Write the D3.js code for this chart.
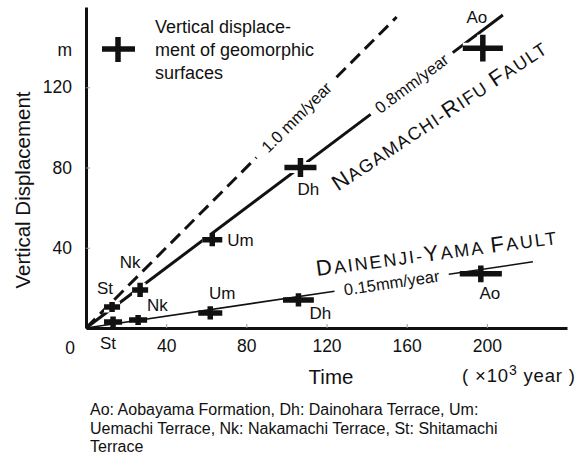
<!DOCTYPE html>
<html>
<head>
<meta charset="utf-8">
<script src="https://cdn.jsdelivr.net/npm/d3@7"></script>
<style>
    body { margin: 0; background: #fff; }
    svg { display: block; font-family: "Liberation Sans", Arial, sans-serif; }
</style>
</head>
<body>
<svg id="chart" width="581" height="463"></svg>
<script>
// terraces, oldest last
const terraces = ["St", "Nk", "Um", "Dh", "Ao"];

// Nagamachi-Rifu fault: age (x10^3 yr) and vertical displacement (m), with half ranges
const nagamachiAge = [13, 27, 63, 107, 198];
const nagamachiAgeErr = [4, 4, 5, 8, 10];
const nagamachiDisp = [10.5, 19, 44, 80, 139.5];
const nagamachiDispErr = [2.5, 3.5, 3.3, 4.7, 6.7];

// Dainenji-yama fault
const dainenjiAge = [13.5, 26, 62, 106, 197];
const dainenjiAgeErr = [4.5, 4.5, 6, 7.7, 10.5];
const dainenjiDisp = [3, 4, 7.5, 14, 27];
const dainenjiDispErr = [2.7, 2.5, 3.3, 3.3, 4.2];

// slip-rate lines, all from the origin
const rateLabels = ["1.0 mm/year", "0.8mm/year", "0.15mm/year"];
const rateEnds = [[155, 155], [208, 156], [223, 33]];
const rateGaps = [[85, 125], [142, 183], [124, 181]]; // age span left open for the label

const xTicks = [40, 80, 120, 160, 200];
const yTicks = [40, 80, 120];

const faultNames = ["NAGAMACHI-RIFU FAULT", "DAINENJI-YAMA FAULT"];
const legendLines = ["Vertical displace-", "ment of geomorphic", "surfaces"];
const captionLines = [
    "Ao: Aobayama Formation, Dh: Dainohara Terrace, Um:",
    "Uemachi Terrace, Nk: Nakamachi Terrace, St: Shitamachi",
    "Terrace"
];

(function () {
    const svg = d3.select("#chart");

    const x = d3.scaleLinear().domain([0, 240]).range([86, 567]);
    const y = d3.scaleLinear().domain([0, 160]).range([328, 7]);

    const ink = "#111";

    // === rate lines (drawn first, crosses sit on top) ===
    const lineG = svg.append("g");
    const rateStyle = [
        { w: 3, dash: "13,7" },
        { w: 3, dash: null },
        { w: 1.6, dash: null }
    ];

    rateEnds.forEach((end, i) => {
        const slope = end[1] / end[0];
        const pts = t => [x(t), y(t * slope)];
        const gap = rateGaps[i];
        const segs = [[0, gap[0]], [gap[1], end[0]]];
        segs.forEach(s => {
            const a = pts(s[0]), b = pts(s[1]);
            lineG.append("line")
                .attr("x1", a[0]).attr("y1", a[1])
                .attr("x2", b[0]).attr("y2", b[1])
                .attr("stroke", ink)
                .attr("stroke-width", rateStyle[i].w)
                .attr("stroke-dasharray", rateStyle[i].dash);
        });

        const mid = pts((gap[0] + gap[1]) / 2);
        const ang = Math.atan2(y(end[0] * slope) - y(0), x(end[0]) - x(0)) * 180 / Math.PI;
        lineG.append("text")
            .attr("transform", `translate(${mid[0]},${mid[1]}) rotate(${ang})`)
            .attr("text-anchor", "middle")
            .attr("dy", "0.35em")
            .style("font-size", "16.5px")
            .attr("fill", ink)
            .text(rateLabels[i]);
    });

    // === crosses ===
    function crossPath(age, ageErr, disp, dispErr) {
        const cx = x(age), cy = y(disp);
        const dx = x(age + ageErr) - cx;
        const dy = cy - y(disp + dispErr);
        return `M${cx - dx},${cy}H${cx + dx}M${cx},${cy - dy}V${cy + dy}`;
    }

    const faults = [
        { age: nagamachiAge, ageErr: nagamachiAgeErr, disp: nagamachiDisp, dispErr: nagamachiDispErr, halo: true },
        { age: dainenjiAge, ageErr: dainenjiAgeErr, disp: dainenjiDisp, dispErr: dainenjiDispErr, halo: false }
    ];

    // label offsets in px from the cross centre: [dx, dy, anchor]
    const labelOffsets = [
        [[-7, -19, "middle"], [-10, -28, "middle"], [15, 0, "start"], [8, 22, "middle"], [-6, -31, "middle"]],
        [[-5, 21, "middle"], [9, -15, "start"], [12, -20, "middle"], [22, 13, "middle"], [9, 19, "middle"]]
    ];

    const crossG = svg.append("g");
    faults.forEach((f, fi) => {
        const rows = terraces.map((name, i) => ({
            name, path: crossPath(f.age[i], f.ageErr[i], f.disp[i], f.dispErr[i]),
            cx: x(f.age[i]), cy: y(f.disp[i]), off: labelOffsets[fi][i]
        }));

        if (f.halo) {
            crossG.selectAll(null).data(rows).enter().append("path")
                .attr("d", d => d.path)
                .attr("stroke", "#fff")
                .attr("stroke-width", 11)
                .attr("fill", "none");
        }
        crossG.selectAll(null).data(rows).enter().append("path")
            .attr("d", d => d.path)
            .attr("stroke", ink)
            .attr("stroke-width", 5.5)
            .attr("fill", "none");

        crossG.selectAll(null).data(rows).enter().append("text")
            .attr("x", d => d.cx + d.off[0])
            .attr("y", d => d.cy + d.off[1])
            .attr("dy", "0.35em")
            .attr("text-anchor", d => d.off[2])
            .style("font-size", "17px")
            .attr("fill", ink)
            .text(d => d.name);
    });

    // === axes ===
    const xAxis = svg.append("g")
        .attr("transform", `translate(0,${y(0)})`)
        .call(d3.axisBottom(x).tickValues(xTicks).tickSizeInner(-4).tickSizeOuter(0).tickPadding(12));
    const yAxis = svg.append("g")
        .attr("transform", `translate(${x(0)},0)`)
        .call(d3.axisLeft(y).tickValues(yTicks).tickSizeInner(-4).tickSizeOuter(0).tickPadding(14));

    [xAxis, yAxis].forEach(a => {
        a.attr("font-family", null).attr("font-size", null);
        a.select(".domain").attr("stroke", ink).attr("stroke-width", 3);
        a.selectAll(".tick line").attr("stroke", "#999").attr("stroke-width", 1);
        a.selectAll(".tick text").style("font-size", "17.5px").attr("fill", ink);
    });

    svg.append("text").attr("x", 75).attr("y", 354).attr("text-anchor", "end")
        .style("font-size", "17.5px").attr("fill", ink).text("0");
    svg.append("text").attr("x", 72).attr("y", 56).attr("text-anchor", "end")
        .style("font-size", "17.5px").attr("fill", ink).text("m");

    svg.append("text")
        .attr("transform", "translate(30,190) rotate(-90)")
        .attr("text-anchor", "middle")
        .style("font-size", "20.5px").attr("fill", ink)
        .text("Vertical Displacement");

    svg.append("text").attr("x", 331).attr("y", 384).attr("text-anchor", "middle")
        .style("font-size", "20.5px").attr("fill", ink).text("Time");

    const unit = svg.append("text").attr("x", 462).attr("y", 382)
        .attr("textLength", 113).attr("lengthAdjust", "spacing")
        .style("font-size", "18.5px").attr("fill", ink);
    unit.append("tspan").text("( \u00d710");
    unit.append("tspan").attr("dy", -7).style("font-size", "14px").text("3");
    unit.append("tspan").attr("dy", 7).text(" year )");

    // === fault names in small caps ===
    function smallCaps(sel, str, big, small) {
        let prev = " ";
        let run = "";
        let runBig = null;
        const flush = () => {
            if (run) sel.append("tspan").style("font-size", (runBig ? big : small) + "px").text(run);
            run = "";
        };
        for (const ch of str) {
            const isBig = prev === " " || prev === "-";
            if (isBig !== runBig) { flush(); runBig = isBig; }
            run += ch;
            prev = ch;
        }
        flush();
    }

    const faultPlace = [
        { cx: 443, cy: 122, ang: -33.5, len: 252 },
        { cx: 437, cy: 260, ang: -7.6, len: 242 }
    ];
    faultNames.forEach((name, i) => {
        const p = faultPlace[i];
        const t = svg.append("text")
            .attr("transform", `translate(${p.cx},${p.cy}) rotate(${p.ang})`)
            .attr("text-anchor", "middle")
            .attr("textLength", p.len)
            .attr("lengthAdjust", "spacing")
            .attr("fill", ink);
        smallCaps(t, name, 22, 18);
    });

    // === legend ===
    svg.append("path")
        .attr("d", "M102,49H135M118,37V62")
        .attr("stroke", ink).attr("stroke-width", 5.5).attr("fill", "none");
    svg.append("text").attr("x", 155).attr("y", 33)
        .style("font-size", "18px").attr("fill", ink)
        .selectAll("tspan").data(legendLines).enter().append("tspan")
        .attr("x", 155).attr("dy", (d, i) => i ? 23 : 0)
        .text(d => d);

    // === caption ===
    svg.append("text").attr("x", 90).attr("y", 415)
        .style("font-size", "16px").attr("fill", ink)
        .selectAll("tspan").data(captionLines).enter().append("tspan")
        .attr("x", 90).attr("dy", (d, i) => i ? 18.5 : 0)
        .text(d => d);
})();
</script>
</body>
</html>
